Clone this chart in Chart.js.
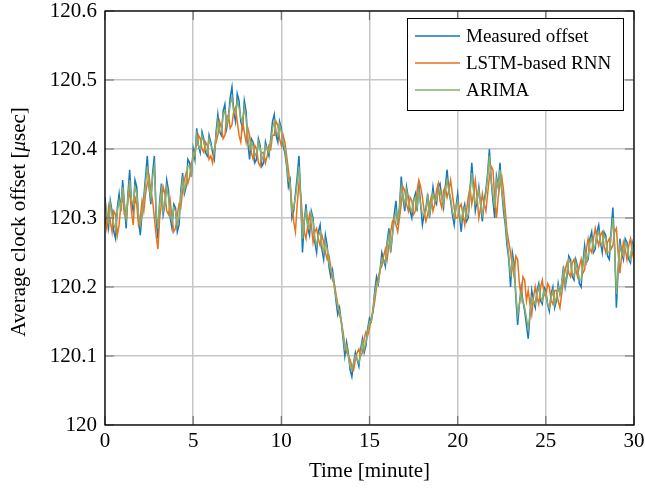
<!DOCTYPE html>
<html><head><meta charset="utf-8">
<script src="https://cdn.jsdelivr.net/npm/chart.js@4"></script>
<style>html,body{margin:0;padding:0;background:#fff}#wrap{width:645px;height:489px}</style>
</head><body><div id="wrap"><canvas id="c" width="645" height="489"></canvas></div>
<script>
const timeMinutes = [
 0,0.1,0.2,0.3,0.4,0.5,0.6,0.7,0.8,0.9,1,1.1,1.2,1.3,1.4,1.5,1.6,1.7,1.8,1.9,
 2,2.1,2.2,2.3,2.4,2.5,2.6,2.7,2.8,2.9,3,3.1,3.2,3.3,3.4,3.5,3.6,3.7,3.8,3.9,
 4,4.1,4.2,4.3,4.4,4.5,4.6,4.7,4.8,4.9,5,5.1,5.2,5.3,5.4,5.5,5.6,5.7,5.8,5.9,
 6,6.1,6.2,6.3,6.4,6.5,6.6,6.7,6.8,6.9,7,7.1,7.2,7.3,7.4,7.5,7.6,7.7,7.8,7.9,
 8,8.1,8.2,8.3,8.4,8.5,8.6,8.7,8.8,8.9,9,9.1,9.2,9.3,9.4,9.5,9.6,9.7,9.8,9.9,
 10,10.1,10.2,10.3,10.4,10.5,10.6,10.7,10.8,10.9,11,11.1,11.2,11.3,11.4,11.5,11.6,11.7,11.8,11.9,
 12,12.1,12.2,12.3,12.4,12.5,12.6,12.7,12.8,12.9,13,13.1,13.2,13.3,13.4,13.5,13.6,13.7,13.8,13.9,
 14,14.1,14.2,14.3,14.4,14.5,14.6,14.7,14.8,14.9,15,15.1,15.2,15.3,15.4,15.5,15.6,15.7,15.8,15.9,
 16,16.1,16.2,16.3,16.4,16.5,16.6,16.7,16.8,16.9,17,17.1,17.2,17.3,17.4,17.5,17.6,17.7,17.8,17.9,
 18,18.1,18.2,18.3,18.4,18.5,18.6,18.7,18.8,18.9,19,19.1,19.2,19.3,19.4,19.5,19.6,19.7,19.8,19.9,
 20,20.1,20.2,20.3,20.4,20.5,20.6,20.7,20.8,20.9,21,21.1,21.2,21.3,21.4,21.5,21.6,21.7,21.8,21.9,
 22,22.1,22.2,22.3,22.4,22.5,22.6,22.7,22.8,22.9,23,23.1,23.2,23.3,23.4,23.5,23.6,23.7,23.8,23.9,
 24,24.1,24.2,24.3,24.4,24.5,24.6,24.7,24.8,24.9,25,25.1,25.2,25.3,25.4,25.5,25.6,25.7,25.8,25.9,
 26,26.1,26.2,26.3,26.4,26.5,26.6,26.7,26.8,26.9,27,27.1,27.2,27.3,27.4,27.5,27.6,27.7,27.8,27.9,
 28,28.1,28.2,28.3,28.4,28.5,28.6,28.7,28.8,28.9,29,29.1,29.2,29.3,29.4,29.5,29.6,29.7,29.8,29.9,
 30];
const measuredOffset = [
 120.330,120.300,120.285,120.325,120.310,120.280,120.270,120.315,120.335,120.310,120.355,120.320,120.285,120.335,120.370,120.325,120.310,120.355,120.345,120.300,
 120.275,120.305,120.330,120.360,120.390,120.345,120.320,120.365,120.390,120.300,120.270,120.325,120.350,120.305,120.320,120.355,120.340,120.300,120.285,120.320,
 120.315,120.280,120.290,120.340,120.365,120.335,120.345,120.385,120.380,120.360,120.400,120.385,120.430,120.405,120.395,120.425,120.415,120.395,120.390,120.420,
 120.410,120.395,120.385,120.425,120.450,120.425,120.420,120.455,120.465,120.430,120.445,120.475,120.490,120.455,120.440,120.480,120.470,120.440,120.430,120.470,
 120.455,120.410,120.385,120.415,120.410,120.380,120.385,120.415,120.405,120.375,120.380,120.410,120.400,120.390,120.415,120.440,120.450,120.420,120.410,120.440,
 120.430,120.405,120.395,120.375,120.345,120.355,120.300,120.310,120.335,120.360,120.390,120.330,120.250,120.295,120.320,120.285,120.275,120.310,120.300,120.265,
 120.250,120.280,120.290,120.255,120.240,120.275,120.260,120.230,120.215,120.225,120.205,120.180,120.160,120.170,120.150,120.125,120.100,120.120,120.105,120.080,
 120.070,120.090,120.105,120.095,120.085,120.110,120.125,120.105,120.115,120.140,120.155,120.150,120.165,120.195,120.215,120.205,120.225,120.250,120.240,120.230,
 120.265,120.285,120.250,120.275,120.305,120.325,120.290,120.315,120.360,120.330,120.310,120.345,120.330,120.310,120.300,120.325,120.335,120.310,120.350,120.320,
 120.290,120.305,120.315,120.335,120.300,120.320,120.345,120.325,120.320,120.345,120.350,120.330,120.315,120.345,120.370,120.340,120.325,120.305,120.290,120.315,
 120.335,120.305,120.280,120.310,120.320,120.295,120.300,120.340,120.380,120.345,120.310,120.325,120.345,120.320,120.295,120.325,120.340,120.365,120.400,120.355,
 120.325,120.300,120.360,120.345,120.380,120.340,120.310,120.290,120.260,120.240,120.200,120.250,120.235,120.185,120.145,120.175,120.200,120.180,120.165,120.145,
 120.125,120.160,120.195,120.180,120.170,120.195,120.205,120.180,120.175,120.200,120.195,120.175,120.165,120.190,120.200,120.170,120.180,120.205,120.190,120.205,
 120.230,120.200,120.215,120.245,120.240,120.215,120.210,120.240,120.230,120.205,120.200,120.235,120.260,120.235,120.240,120.270,120.280,120.250,120.255,120.280,
 120.290,120.265,120.250,120.280,120.275,120.245,120.240,120.280,120.315,120.260,120.170,120.225,120.270,120.250,120.240,120.270,120.265,120.240,120.235,120.265,
 120.255];
const lstmRnn = [
 120.300,120.285,120.315,120.295,120.280,120.310,120.305,120.275,120.290,120.320,120.330,120.305,120.300,120.325,120.340,120.310,120.290,120.330,120.320,120.290,
 120.300,120.325,120.310,120.335,120.350,120.360,120.340,120.325,120.300,120.275,120.255,120.300,120.320,120.345,120.335,120.310,120.305,120.325,120.300,120.280,
 120.285,120.305,120.320,120.315,120.340,120.355,120.365,120.350,120.360,120.380,120.385,120.400,120.405,120.420,120.415,120.400,120.395,120.410,120.405,120.385,
 120.390,120.380,120.400,120.410,120.420,120.440,120.430,120.415,120.420,120.445,120.450,120.430,120.435,120.455,120.460,120.440,120.420,120.410,120.440,120.425,
 120.410,120.430,120.420,120.395,120.385,120.405,120.400,120.380,120.375,120.395,120.395,120.380,120.390,120.405,120.400,120.420,120.420,120.440,120.435,120.415,
 120.405,120.420,120.410,120.390,120.370,120.345,120.320,120.295,120.280,120.320,120.350,120.335,120.300,120.280,120.270,120.290,120.305,120.290,120.265,120.280,
 120.285,120.270,120.260,120.275,120.265,120.250,120.240,120.245,120.230,120.210,120.205,120.190,120.175,120.160,120.150,120.135,120.115,120.105,120.100,120.095,
 120.085,120.080,120.095,120.105,120.110,120.100,120.105,120.125,120.135,120.130,120.140,120.155,120.165,120.180,120.200,120.215,120.225,120.230,120.245,120.255,
 120.240,120.260,120.280,120.295,120.300,120.290,120.280,120.300,120.320,120.345,120.340,120.320,120.310,120.330,120.325,120.305,120.310,120.340,120.355,120.345,
 120.330,120.310,120.295,120.305,120.320,120.330,120.310,120.320,120.340,120.350,120.325,120.315,120.340,120.345,120.330,120.340,120.355,120.335,120.315,120.300,
 120.300,120.315,120.320,120.305,120.290,120.310,120.330,120.345,120.320,120.335,120.355,120.330,120.300,120.315,120.335,120.320,120.310,120.335,120.360,120.375,
 120.370,120.330,120.300,120.330,120.350,120.360,120.340,120.310,120.280,120.265,120.250,120.230,120.215,120.245,120.240,120.205,120.185,120.215,120.210,120.180,
 120.195,120.175,120.160,120.185,120.200,120.185,120.175,120.200,120.210,120.190,120.185,120.205,120.200,120.180,120.175,120.195,120.195,120.180,120.170,120.190,
 120.210,120.225,120.235,120.220,120.215,120.235,120.240,120.225,120.215,120.230,120.240,120.220,120.225,120.255,120.270,120.255,120.250,120.270,120.285,120.270,
 120.260,120.275,120.280,120.260,120.250,120.265,120.270,120.255,120.260,120.280,120.285,120.250,120.220,120.245,120.265,120.255,120.240,120.260,120.270,120.250,
 120.240];
const arimaModel = [
 120.325,120.305,120.295,120.320,120.305,120.290,120.285,120.310,120.325,120.315,120.345,120.320,120.300,120.330,120.355,120.325,120.320,120.345,120.335,120.305,
 120.290,120.305,120.325,120.350,120.375,120.345,120.330,120.360,120.375,120.310,120.285,120.320,120.340,120.310,120.320,120.345,120.330,120.305,120.295,120.315,
 120.310,120.290,120.300,120.335,120.355,120.340,120.350,120.375,120.375,120.365,120.395,120.390,120.420,120.405,120.400,120.420,120.410,120.400,120.395,120.415,
 120.405,120.400,120.395,120.420,120.440,120.425,120.425,120.450,120.455,120.435,120.445,120.465,120.475,120.455,120.450,120.470,120.460,120.445,120.440,120.460,
 120.445,120.415,120.400,120.410,120.405,120.390,120.395,120.410,120.400,120.385,120.390,120.405,120.400,120.395,120.410,120.430,120.440,120.425,120.420,120.435,
 120.425,120.410,120.400,120.380,120.355,120.350,120.310,120.315,120.330,120.350,120.375,120.325,120.270,120.295,120.310,120.290,120.285,120.305,120.295,120.270,
 120.260,120.275,120.280,120.260,120.250,120.265,120.255,120.235,120.225,120.220,120.200,120.185,120.170,120.165,120.150,120.130,120.110,120.115,120.100,120.085,
 120.080,120.090,120.100,120.095,120.090,120.105,120.120,120.110,120.120,120.135,120.150,120.150,120.170,120.190,120.205,120.205,120.225,120.240,120.235,120.235,
 120.260,120.275,120.255,120.275,120.295,120.310,120.295,120.315,120.345,120.330,120.320,120.340,120.325,120.315,120.310,120.325,120.330,120.315,120.340,120.320,
 120.305,120.305,120.310,120.330,120.305,120.320,120.335,120.325,120.325,120.340,120.340,120.330,120.320,120.340,120.355,120.340,120.330,120.310,120.300,120.315,
 120.325,120.305,120.295,120.310,120.315,120.300,120.305,120.335,120.365,120.340,120.320,120.325,120.340,120.320,120.305,120.320,120.335,120.360,120.390,120.355,
 120.335,120.315,120.355,120.345,120.370,120.340,120.320,120.295,120.270,120.245,120.215,120.240,120.225,120.190,120.160,120.175,120.190,120.180,120.170,120.155,
 120.140,120.160,120.185,120.180,120.175,120.190,120.200,120.185,120.180,120.195,120.190,120.175,120.170,120.185,120.195,120.175,120.185,120.200,120.190,120.205,
 120.225,120.205,120.220,120.240,120.235,120.220,120.215,120.235,120.225,120.210,120.210,120.230,120.250,120.235,120.245,120.265,120.270,120.255,120.260,120.275,
 120.280,120.265,120.260,120.275,120.270,120.250,120.250,120.275,120.300,120.255,120.190,120.225,120.260,120.250,120.245,120.265,120.260,120.245,120.240,120.260,
 120.250];
const seriesLabels = ['Measured offset','LSTM-based RNN','ARIMA'];
const seriesColors = ['#1479bd','#e8711c','#8aae6c'];
const xTickValues = [0,5,10,15,20,25,30];
const xTickLabels = ['0','5','10','15','20','25','30'];
const yTickValues = [120,120.1,120.2,120.3,120.4,120.5,120.6];
const yTickLabels = ['120','120.1','120.2','120.3','120.4','120.5','120.6'];

const FONT = "'Liberation Serif','Times New Roman',serif";
const pts = arr => arr.map((v,i)=>({x:timeMinutes[i], y:v}));

const decorPlugin = {
  id:'decor',
  afterDatasetsDraw(chart){
    const {ctx, chartArea:a, scales:{x,y}} = chart;
    ctx.save();
    ctx.strokeStyle='#707070'; ctx.lineWidth=1.2;
    ctx.beginPath();
    yTickValues.forEach(v=>{
      const py = y.getPixelForValue(v);
      ctx.moveTo(a.left,py); ctx.lineTo(a.left+9,py);
      ctx.moveTo(a.right,py); ctx.lineTo(a.right-9,py);
    });
    xTickValues.forEach(v=>{
      const px = x.getPixelForValue(v);
      ctx.moveTo(px,a.bottom); ctx.lineTo(px,a.bottom-9);
      ctx.moveTo(px,a.top); ctx.lineTo(px,a.top+9);
    });
    ctx.stroke();
    ctx.strokeStyle='#000'; ctx.lineWidth=1.3;
    ctx.strokeRect(a.left,a.top,a.right-a.left,a.bottom-a.top);
    const lx=407, ly=18, lw=216, lh=92;
    ctx.fillStyle='#fff'; ctx.fillRect(lx,ly,lw,lh);
    ctx.strokeStyle='#000'; ctx.lineWidth=1; ctx.strokeRect(lx+0.5,ly+0.5,lw,lh);
    ctx.font='19px '+FONT; ctx.textBaseline='middle'; ctx.textAlign='left';
    const rows=[36,63,90];
    seriesLabels.forEach((lab,i)=>{
      ctx.strokeStyle=seriesColors[i]; ctx.lineWidth=1.3;
      ctx.beginPath(); ctx.moveTo(415,rows[i]); ctx.lineTo(460,rows[i]); ctx.stroke();
      ctx.fillStyle='#000'; ctx.fillText(lab,466,rows[i]+1);
    });
    ctx.translate(19,(a.top+a.bottom)/2+4);
    ctx.rotate(-Math.PI/2);
    const f1='21px '+FONT, f2='italic 21px '+FONT;
    const s1='Average clock offset [', s2='\u03BC', s3='sec]';
    ctx.font=f1; const w1=ctx.measureText(s1).width, w3=ctx.measureText(s3).width;
    ctx.font=f2; const w2=ctx.measureText(s2).width;
    let sx=-(w1+w2+w3)/2;
    ctx.fillStyle='#000'; ctx.textBaseline='middle';
    ctx.font=f1; ctx.fillText(s1,sx,0); sx+=w1;
    ctx.font=f2; ctx.fillText(s2,sx,0); sx+=w2;
    ctx.font=f1; ctx.fillText(s3,sx,0);
    ctx.restore();
  }
};

new Chart(document.getElementById('c'),{
  type:'line',
  data:{datasets:[
    {label:seriesLabels[0],data:pts(measuredOffset),borderColor:seriesColors[0],borderWidth:1.5,pointRadius:0,order:2},
    {label:seriesLabels[1],data:pts(lstmRnn),borderColor:seriesColors[1],borderWidth:1.5,pointRadius:0,order:1},
    {label:seriesLabels[2],data:pts(arimaModel),borderColor:seriesColors[2],borderWidth:1.5,pointRadius:0,order:0}
  ]},
  options:{
    responsive:false, animation:false, devicePixelRatio:1,
    layout:{padding:{left:0,right:11,top:11,bottom:0}},
    plugins:{legend:{display:false},tooltip:{enabled:false}},
    elements:{line:{tension:0}},
    scales:{
      x:{type:'linear',min:0,max:30,
        afterBuildTicks:s=>{s.ticks=xTickValues.map(v=>({value:v}));},
        ticks:{callback:(v,i)=>xTickLabels[i],font:{family:FONT,size:21},color:'#000',padding:4,maxRotation:0,autoSkip:false},
        grid:{color:'#c6c6c6',lineWidth:1.5,drawTicks:false},
        border:{display:false},
        title:{display:true,text:'Time [minute]',font:{family:FONT,size:21},color:'#000',padding:{top:1,bottom:5}},
        afterFit:s=>{s.height=64; s.paddingLeft=0; s.paddingRight=0;}
      },
      y:{type:'linear',min:120,max:120.6,
        afterBuildTicks:s=>{s.ticks=yTickValues.map(v=>({value:v}));},
        ticks:{callback:(v,i)=>yTickLabels[i],font:{family:FONT,size:21},color:'#000',padding:8,autoSkip:false},
        grid:{color:'#c6c6c6',lineWidth:1.5,drawTicks:false},
        border:{display:false},
        afterFit:s=>{s.width=105; s.paddingTop=0; s.paddingBottom=0;}
      }
    }
  },
  plugins:[decorPlugin]
});
</script></body></html>
